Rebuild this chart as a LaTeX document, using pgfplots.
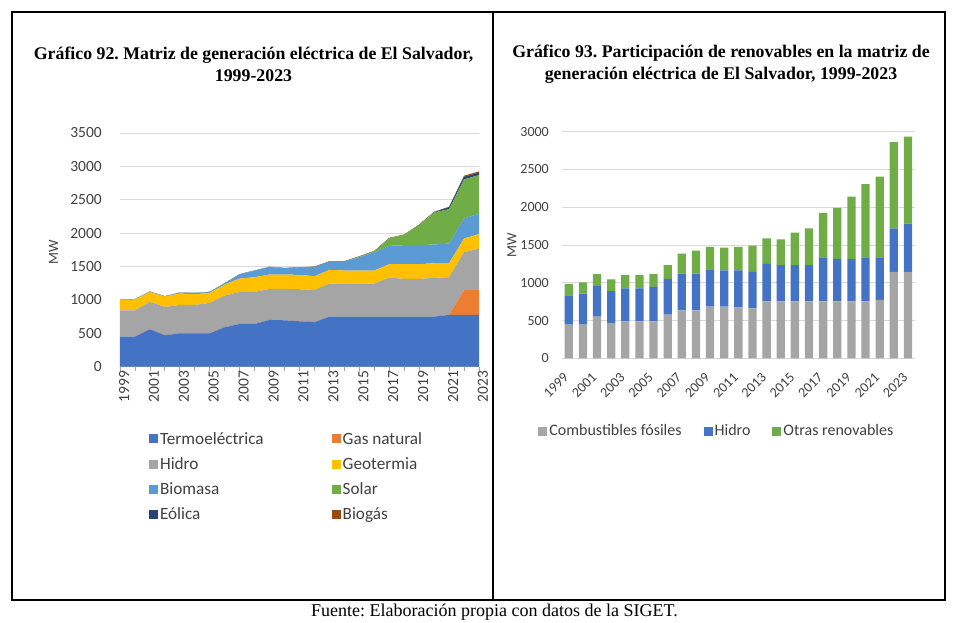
\documentclass[border=0pt]{standalone}
\usepackage{pgfplots}
\usepackage{pgfplotstable}
\pgfplotsset{compat=1.18}
\usepackage{fontspec}
\setmainfont{Liberation Serif}
\newfontfamily\carlito{Carlito}
\definecolor{cTermo}{HTML}{4472C4}
\definecolor{cGas}{HTML}{ED7D31}
\definecolor{cHidro}{HTML}{A5A5A5}
\definecolor{cGeo}{HTML}{FFC000}
\definecolor{cBio}{HTML}{5B9BD5}
\definecolor{cSolar}{HTML}{70AD47}
\definecolor{cEol}{HTML}{264478}
\definecolor{cBiogas}{HTML}{9E480E}
\definecolor{cGrid}{HTML}{D9D9D9}
\definecolor{cTxt}{HTML}{404040}

\pgfplotstableread{
year termo gas hidro geo bio solar eol biogas
1999 450 0 395 150 5 0 0 0
2000 450 0 395 160 5 0 0 0
2001 560 0 410 150 5 0 0 0
2002 470 0 425 155 5 0 0 0
2003 500 0 425 170 15 0 0 0
2004 500 0 425 160 20 0 0 0
2005 500 0 455 150 15 0 0 0
2006 590 0 475 165 20 0 0 0
2007 640 0 480 200 65 0 0 0
2008 640 0 480 220 100 0 0 0
2009 700 0 465 215 115 0 0 0
2010 695 0 470 215 95 0 0 5
2011 680 0 480 215 110 0 0 5
2012 665 0 485 205 140 0 0 5
2013 750 0 495 205 125 0 0 5
2014 750 0 495 195 135 0 0 5
2015 750 0 495 195 200 10 0 5
2016 750 0 495 195 275 15 0 5
2017 750 0 585 200 275 115 0 5
2018 750 0 565 220 285 155 0 5
2019 750 0 565 220 285 305 0 5
2020 750 0 580 220 280 480 5 5
2021 775 0 565 210 295 515 30 5
2022 775 370 570 205 300 585 40 15
2023 775 370 625 215 305 580 35 20
}\leftdata

\pgfplotstableread{
x fos hid otr
0 446 388 150
1 446 410 150
2 551 406 159
3 468 423 155
4 490 436 177
5 490 436 177
6 490 454 172
7 578 472 185
8 635 486 264
9 635 486 304
10 684 485 305
11 684 481 300
12 675 490 309
13 662 481 348
14 754 495 339
15 754 481 340
16 754 481 428
17 754 481 486
18 754 583 587
19 754 561 675
20 754 561 825
21 754 583 970
22 772 565 1068
23 1143 578 1142
24 1143 639 1152
}\rightdata

\begin{document}
\frenchspacing
\begin{tikzpicture}
\path[use as bounding box] (0pt,0pt) rectangle (959pt,622pt);
\draw[line width=1.6pt] (12pt,22pt) rectangle (945pt,610pt);
\draw[line width=1.2pt] (493pt,22pt) -- (493pt,610pt);

\node[align=center, font=\bfseries\fontsize{17.8}{22}\selectfont] at (253.5pt,558pt)
  {Gráfico 92. Matriz de generación eléctrica de El Salvador,\\1999-2023};
\node[align=center, font=\bfseries\fontsize{17.8}{22}\selectfont] at (721pt,558pt)
  {Gráfico 93. Participación de renovables en la matriz de\\generación eléctrica de El Salvador, 1999-2023};
\node[font=\fontsize{18}{20}\selectfont] at (494.5pt,10pt)
  {Fuente: Elaboración propia con datos de la SIGET.};

\begin{axis}[
  at={(120pt,255.3pt)}, anchor=south west,
  scale only axis, width=359pt, height=233.7pt,
  xmin=1999, xmax=2023, ymin=0, ymax=3500,
  stack plots=y,
  axis lines*=left,
  x axis line style={draw=cHidro, line width=0.8pt},
  y axis line style={draw=none},
  xtick={1999,2001,...,2023},
  minor xtick={2000,2002,...,2022},
  ytick={0,500,...,3500},
  tick align=outside,
  major tick length=4pt, minor tick length=4pt,
  x tick style={draw=cHidro, line width=0.8pt},
  minor x tick style={draw=cHidro, line width=0.8pt},
  y tick style={draw=none},
  ymajorgrids, major grid style={draw=cGrid, line width=0.9pt},
  /pgf/number format/1000 sep={},
  /pgf/number format/assume math mode=true,
  tick label style={font=\carlito\fontsize{15.5}{18}\selectfont, text=cTxt},
  xticklabel style={rotate=90, anchor=east, inner sep=0pt, yshift=-4pt},
  yticklabel style={anchor=east, inner sep=0pt, xshift=-14pt},
  ylabel={MW},
  ylabel style={at={(axis description cs:-0.185,0.49)}, anchor=center, rotate=0, font=\carlito\fontsize{14}{16}\selectfont, text=cTxt},
  legend columns=2,
  legend cell align=left,
  legend image code/.code={\fill[#1] (0pt,-4.5pt) rectangle (9pt,4.5pt);},
  legend style={draw=none, fill=none, at={(axis description cs:0.072,-0.262)}, anchor=north west,
    font=\carlito\fontsize{17.2}{20}\selectfont, text=cTxt, row sep=7.8pt,
    /tikz/every even column/.append style={column sep=66pt}},
]
\addplot[fill=cTermo, draw=none] table[x=year,y=termo]{\leftdata} \closedcycle;
\addlegendentry{Termoeléctrica}
\addplot[fill=cGas, draw=none] table[x=year,y=gas]{\leftdata} \closedcycle;
\addlegendentry{Gas natural}
\addplot[fill=cHidro, draw=none] table[x=year,y=hidro]{\leftdata} \closedcycle;
\addlegendentry{Hidro}
\addplot[fill=cGeo, draw=none] table[x=year,y=geo]{\leftdata} \closedcycle;
\addlegendentry{Geotermia}
\addplot[fill=cBio, draw=none] table[x=year,y=bio]{\leftdata} \closedcycle;
\addlegendentry{Biomasa}
\addplot[fill=cSolar, draw=none] table[x=year,y=solar]{\leftdata} \closedcycle;
\addlegendentry{Solar}
\addplot[fill=cEol, draw=none] table[x=year,y=eol]{\leftdata} \closedcycle;
\addlegendentry{Eólica}
\addplot[fill=cBiogas, draw=none] table[x=year,y=biogas]{\leftdata} \closedcycle;
\addlegendentry{Biogás}
\end{axis}

\begin{axis}[
  at={(561.7pt,263.7pt)}, anchor=south west,
  scale only axis, width=353.3pt, height=226.6pt,
  xmin=-0.5, xmax=24.5, ymin=0, ymax=3000,
  ybar stacked, bar width=8.3pt,
  axis lines*=left,
  x axis line style={draw=cGrid, line width=0.9pt},
  y axis line style={draw=none},
  xtick={0,2,...,24},
  xticklabels={1999,2001,2003,2005,2007,2009,2011,2013,2015,2017,2019,2021,2023},
  ytick={0,500,...,3000},
  x tick style={draw=none}, y tick style={draw=none},
  ymajorgrids, major grid style={draw=cGrid, line width=0.9pt},
  /pgf/number format/1000 sep={},
  /pgf/number format/assume math mode=true,
  tick label style={font=\carlito\fontsize{14}{16}\selectfont, text=cTxt},
  xticklabel style={xshift=-6pt, yshift=-13pt, rotate=45, anchor=north east, inner sep=0pt},
  yticklabel style={anchor=east, inner sep=0pt, xshift=-12.7pt},
  ylabel={MW},
  ylabel style={at={(axis description cs:-0.141,0.5)}, anchor=center, rotate=0, font=\carlito\fontsize{14}{16}\selectfont, text=cTxt},
  legend columns=-1,
  legend image code/.code={\fill[#1] (0pt,-4.5pt) rectangle (9pt,4.5pt);},
  legend style={draw=none, fill=none, at={(axis description cs:-0.075,-0.321)}, anchor=west,
    font=\carlito\fontsize{16}{18}\selectfont, text=cTxt,
    /tikz/every even column/.append style={column sep=20pt}},
]
\addplot[fill=cHidro, draw=none] table[x=x,y=fos]{\rightdata};
\addlegendentry{Combustibles fósiles}
\addplot[fill=cTermo, draw=none] table[x=x,y=hid]{\rightdata};
\addlegendentry{Hidro}
\addplot[fill=cSolar, draw=none] table[x=x,y=otr]{\rightdata};
\addlegendentry{Otras renovables}
\end{axis}
\end{tikzpicture}
\end{document}
